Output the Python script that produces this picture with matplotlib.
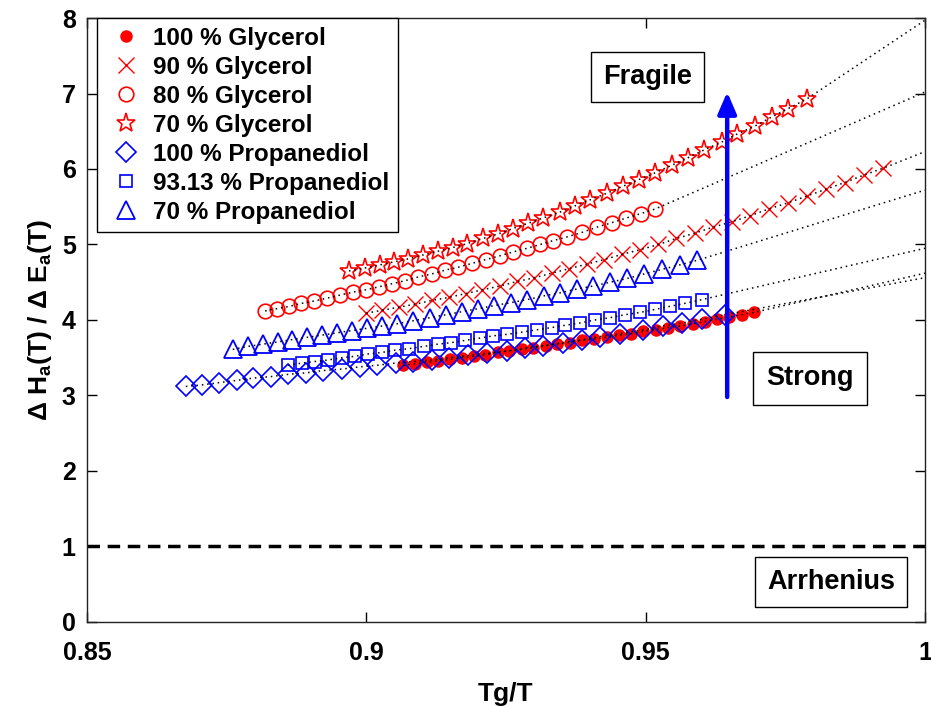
import matplotlib
matplotlib.use('Agg')
import matplotlib.pyplot as plt

plt.rcParams['font.family'] = ['Liberation Sans', 'DejaVu Sans']
plt.rcParams['font.weight'] = 'bold'
plt.rcParams['axes.labelweight'] = 'bold'
plt.rcParams['mathtext.fontset'] = 'custom'
plt.rcParams['mathtext.bf'] = 'Liberation Sans:bold'
plt.rcParams['mathtext.rm'] = 'Liberation Sans:bold'

# 100 % Glycerol
gly100_x = [0.9066, 0.9087, 0.9108, 0.9129, 0.9150, 0.9171, 0.9192, 0.9213, 0.9235, 0.9256,
            0.9278, 0.9299, 0.9321, 0.9342, 0.9364, 0.9386, 0.9408, 0.9430, 0.9452, 0.9474,
            0.9496, 0.9518, 0.9540, 0.9562, 0.9584, 0.9606, 0.9628, 0.9650, 0.9672, 0.9694]
gly100_y = [3.40, 3.42, 3.44, 3.46, 3.48, 3.50, 3.52, 3.54, 3.57, 3.59,
            3.61, 3.63, 3.66, 3.68, 3.70, 3.73, 3.75, 3.77, 3.80, 3.82,
            3.85, 3.87, 3.90, 3.92, 3.95, 3.98, 4.01, 4.04, 4.07, 4.10]

# 90 % Glycerol
gly90_x = [0.9000, 0.9029, 0.9059, 0.9088, 0.9118, 0.9148, 0.9178, 0.9208, 0.9239, 0.9270,
           0.9301, 0.9332, 0.9363, 0.9395, 0.9426, 0.9458, 0.9490, 0.9523, 0.9555, 0.9588,
           0.9621, 0.9654, 0.9687, 0.9720, 0.9754, 0.9788, 0.9822, 0.9856, 0.9891, 0.9925]
gly90_y = [4.09, 4.13, 4.17, 4.21, 4.26, 4.30, 4.35, 4.40, 4.45, 4.51,
           4.56, 4.62, 4.68, 4.74, 4.80, 4.87, 4.93, 5.00, 5.08, 5.15,
           5.23, 5.30, 5.38, 5.47, 5.55, 5.64, 5.73, 5.82, 5.92, 6.01]

# 80 % Glycerol
gly80_x = [0.8819, 0.8840, 0.8862, 0.8884, 0.8906, 0.8930, 0.8953, 0.8977, 0.8999, 0.9023,
           0.9046, 0.9069, 0.9093, 0.9117, 0.9141, 0.9165, 0.9189, 0.9214, 0.9239, 0.9262,
           0.9288, 0.9311, 0.9334, 0.9359, 0.9386, 0.9413, 0.9440, 0.9465, 0.9492, 0.9517]
gly80_y = [4.12, 4.15, 4.18, 4.22, 4.25, 4.29, 4.33, 4.37, 4.40, 4.44,
           4.48, 4.52, 4.57, 4.61, 4.66, 4.70, 4.75, 4.80, 4.85, 4.90,
           4.95, 5.00, 5.05, 5.10, 5.16, 5.23, 5.29, 5.35, 5.41, 5.47]

# 70 % Glycerol
gly70_x = [0.8969, 0.8998, 0.9024, 0.9049, 0.9075, 0.9101, 0.9128, 0.9155, 0.9180, 0.9209,
           0.9236, 0.9262, 0.9289, 0.9316, 0.9347, 0.9373, 0.9400, 0.9431, 0.9459, 0.9488,
           0.9517, 0.9547, 0.9576, 0.9604, 0.9637, 0.9663, 0.9696, 0.9726, 0.9755, 0.9789]
gly70_y = [4.65, 4.69, 4.73, 4.77, 4.81, 4.86, 4.91, 4.96, 5.01, 5.08,
           5.14, 5.21, 5.28, 5.35, 5.43, 5.51, 5.59, 5.68, 5.77, 5.86,
           5.95, 6.05, 6.15, 6.25, 6.36, 6.46, 6.57, 6.69, 6.80, 6.93]

# 100 % Propanediol
pro100_x = [0.8677, 0.8706, 0.8736, 0.8768, 0.8797, 0.8829, 0.8860, 0.8892, 0.8922, 0.8956,
            0.8989, 0.9019, 0.9053, 0.9084, 0.9118, 0.9148, 0.9182, 0.9216, 0.9252, 0.9284,
            0.9316, 0.9352, 0.9386, 0.9418, 0.9454, 0.9495, 0.9531, 0.9565, 0.9601, 0.9642]
pro100_y = [3.12, 3.14, 3.17, 3.20, 3.23, 3.25, 3.28, 3.30, 3.33, 3.35,
            3.38, 3.40, 3.43, 3.45, 3.47, 3.50, 3.53, 3.56, 3.59, 3.63,
            3.66, 3.70, 3.74, 3.78, 3.82, 3.87, 3.92, 3.96, 4.01, 4.07]

# 93.13 % Propanediol
pro93_x = [0.8860, 0.8885, 0.8908, 0.8931, 0.8956, 0.8980, 0.9003, 0.9028, 0.9051, 0.9076,
           0.9103, 0.9128, 0.9152, 0.9177, 0.9203, 0.9227, 0.9252, 0.9279, 0.9305, 0.9332,
           0.9356, 0.9382, 0.9409, 0.9436, 0.9463, 0.9490, 0.9517, 0.9543, 0.9570, 0.9601]
pro93_y = [3.40, 3.43, 3.45, 3.47, 3.50, 3.52, 3.55, 3.57, 3.60, 3.62,
           3.65, 3.68, 3.70, 3.73, 3.76, 3.79, 3.81, 3.84, 3.87, 3.90,
           3.93, 3.96, 4.00, 4.03, 4.07, 4.10, 4.14, 4.18, 4.22, 4.27]

# 70 % Propanediol
pro70_x = [0.8761, 0.8788, 0.8815, 0.8842, 0.8867, 0.8894, 0.8921, 0.8947, 0.8974, 0.9001,
           0.9028, 0.9055, 0.9084, 0.9114, 0.9143, 0.9171, 0.9200, 0.9228, 0.9259, 0.9288,
           0.9318, 0.9347, 0.9377, 0.9406, 0.9436, 0.9467, 0.9497, 0.9529, 0.9561, 0.9592]
pro70_y = [3.61, 3.65, 3.68, 3.71, 3.74, 3.77, 3.80, 3.83, 3.86, 3.89,
           3.92, 3.95, 3.99, 4.03, 4.07, 4.11, 4.15, 4.19, 4.23, 4.27,
           4.32, 4.36, 4.41, 4.45, 4.50, 4.55, 4.61, 4.67, 4.73, 4.79]

# value of each fitted (dotted) curve at Tg/T = 1
fit_end = {'gly100': 4.62, 'gly90': 6.23, 'gly80': 7.02, 'gly70': 7.97,
           'pro100': 4.56, 'pro93': 4.95, 'pro70': 5.72}

series = [
    ('gly100', gly100_x, gly100_y, '100 % Glycerol', dict(marker='o', color='red', mfc='red', ms=8, mec='red')),
    ('gly90', gly90_x, gly90_y, '90 % Glycerol', dict(marker='x', color='red', ms=11.5, mew=1.0)),
    ('gly80', gly80_x, gly80_y, '80 % Glycerol', dict(marker='o', color='red', mfc='none', ms=10.5, mew=1.2)),
    ('gly70', gly70_x, gly70_y, '70 % Glycerol', dict(marker='*', color='red', mfc='none', ms=14, mew=1.2)),
    ('pro100', pro100_x, pro100_y, '100 % Propanediol', dict(marker='D', color='blue', mfc='none', ms=10.5, mew=1.2)),
    ('pro93', pro93_x, pro93_y, '93.13 % Propanediol', dict(marker='s', color='blue', mfc='none', ms=9, mew=1.2)),
    ('pro70', pro70_x, pro70_y, '70 % Propanediol', dict(marker='^', color='blue', mfc='none', ms=13, mew=1.3)),
]

fig = plt.figure(figsize=(9.31, 7.06), dpi=100)
ax = fig.add_axes([0.0934, 0.119, 0.9001, 0.8555])

for key, xs, ys, label, style in series:
    ax.plot(xs, ys, ls='none', label=label, zorder=3, **style)
    # dotted fit line, runs on to Tg/T = 1
    ax.plot(list(xs) + [1.0], list(ys) + [fit_end[key]], color='black',
            ls=(0, (1, 2.5)), lw=1.1, zorder=4)

# Arrhenius limit
ax.axhline(1, color='black', ls=(0, (3.6, 2.2)), lw=2.5, zorder=2)

# arrow strong -> fragile
ax.annotate('', xy=(0.9646, 7.02), xytext=(0.9646, 2.98),
            arrowprops=dict(arrowstyle='-|>,head_length=0.65,head_width=0.28',
                            color='blue', lw=3.2, mutation_scale=20,
                            shrinkA=0, shrinkB=0), zorder=5)

box = dict(boxstyle='square,pad=0.45', fc='white', ec='black', lw=1)
ax.text(0.9504, 7.22, 'Fragile', fontsize=19.5, fontweight='bold',
        ha='center', va='center', bbox=box, zorder=6)
ax.text(0.9794, 3.23, 'Strong', fontsize=19.5, fontweight='bold',
        ha='center', va='center', bbox=dict(boxstyle='square,pad=0.5', fc='white', ec='black', lw=1), zorder=6)
ax.text(0.9832, 0.53, 'Arrhenius', fontsize=19.5, fontweight='bold',
        ha='center', va='center', bbox=box, zorder=6)

ax.set_xlim(0.85, 1.0)
ax.set_ylim(0, 8)
ax.set_xticks([0.85, 0.9, 0.95, 1.0])
ax.set_xticklabels(['0.85', '0.9', '0.95', '1'])
ax.set_yticks(range(0, 9))
ax.tick_params(direction='in', length=7, width=1, top=True, right=True,
               labelsize=18)
ax.tick_params(axis='x', pad=14)
ax.tick_params(axis='y', pad=8)
for s in ax.spines.values():
    s.set_linewidth(1)
    s.set_color('#222222')

ax.set_xlabel('Tg/T', fontsize=19, fontweight='bold', labelpad=12)
ax.set_ylabel(r'Δ H$_{\mathbf{a}}$(T) / Δ E$_{\mathbf{a}}$(T)', fontsize=19,
              fontweight='bold', labelpad=6)

leg = ax.legend(loc='upper left', bbox_to_anchor=(0.012, 1.0), borderaxespad=0,
                prop=dict(size=17.5, weight='bold'), frameon=True, fancybox=False,
                framealpha=1, edgecolor='black', borderpad=0.35, handlelength=1.7,
                handletextpad=0.25, labelspacing=0.25)
leg.get_frame().set_linewidth(1)
leg.set_zorder(7)

fig.savefig('out.png', dpi=100)
